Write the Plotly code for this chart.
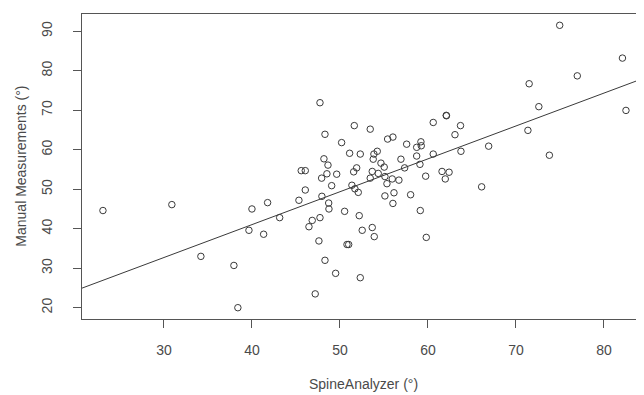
import numpy as np
import plotly.graph_objects as go

# SpineAnalyzer (x) vs Manual Measurements (y), degrees
spine_analyzer = [
    23.07, 30.9, 40.0, 39.66, 34.2, 37.95, 38.4,
    74.97, 82.1, 76.97, 71.5, 72.6, 82.5, 62.1, 63.7, 63.07, 71.36, 66.9, 63.75, 73.8,
    61.6, 62.4, 61.97, 66.1,
    47.73, 51.63, 53.44, 48.30, 55.42, 56.02, 60.60, 62.08, 50.19, 57.58,
    59.20, 59.24, 58.72, 51.10, 52.31, 54.24, 53.86, 60.60, 58.72, 48.18,
    53.78, 56.93, 48.64, 54.66, 55.03, 59.09, 51.90, 51.56, 48.52, 49.63,
    53.67, 54.35, 57.35, 45.60, 46.06, 47.92, 53.44, 55.11, 55.94, 56.70,
    55.34, 59.74,
    49.06, 51.36, 51.70, 52.08, 46.06, 56.14, 55.11, 58.03, 45.34, 47.95,
    48.72, 48.75, 56.02, 41.78,
    50.53, 59.13, 43.15, 47.73, 52.19, 46.85, 46.48,
    41.33, 52.53, 53.67, 53.90, 59.81, 47.61,
    50.80, 50.99, 48.30, 49.51, 52.31, 47.19,
]
manual = [
    44.6, 46.1, 45.0, 39.6, 33.0, 30.7, 20.0,
    91.5, 83.2, 78.7, 76.7, 70.9, 69.95, 68.6, 66.1, 63.8, 64.9, 60.9, 59.6, 58.6,
    54.5, 54.3, 52.6, 50.6,
    71.9, 66.1, 65.2, 63.9, 62.7, 63.2, 66.9, 68.7, 61.8, 61.4,
    62.0, 61.0, 60.6, 59.1, 58.9, 59.6, 58.9, 58.9, 58.4, 57.7,
    57.6, 57.6, 56.1, 56.6, 55.6, 56.3, 55.4, 54.4, 53.9, 53.8,
    54.5, 54.0, 55.4, 54.7, 54.7, 52.8, 52.8, 53.2, 52.6, 52.3,
    51.4, 53.3,
    50.9, 51.0, 50.1, 49.2, 49.8, 49.1, 48.3, 48.6, 47.2, 48.2,
    46.5, 45.0, 46.4, 46.6,
    44.4, 44.6, 42.8, 42.8, 43.3, 42.1, 40.5,
    38.6, 39.6, 40.3, 38.0, 37.8, 36.9,
    36.0, 36.0, 32.0, 28.7, 27.6, 23.5,
]

x_ticks = [30, 40, 50, 60, 70, 80]
y_ticks = [20, 30, 40, 50, 60, 70, 80, 90]
x_title = "SpineAnalyzer (°)"
y_title = "Manual Measurements (°)"

x = np.array(spine_analyzer)
y = np.array(manual)
slope, intercept = np.polyfit(x, y, 1)

x_range = [20.69, 84.55]
y_range = [17.14, 94.36]
line_x = np.array(x_range)
line_y = intercept + slope * line_x

ink = "#3a3a3a"
txt = "#4a4a4a"
font_family = "Liberation Sans, Arial, sans-serif"

fig = go.Figure()
fig.add_trace(go.Scatter(
    x=line_x, y=line_y, mode="lines",
    line=dict(color=ink, width=1), hoverinfo="skip", showlegend=False,
))
fig.add_trace(go.Scatter(
    x=x, y=y, mode="markers",
    marker=dict(symbol="circle-open", size=6.5, color=ink, line=dict(width=1, color=ink)),
    showlegend=False,
))

axis_common = dict(
    showgrid=False, zeroline=False, showline=True, linecolor="#555555", linewidth=1,
    ticks="outside", ticklen=8, tickwidth=1, tickcolor="#555555",
    tickfont=dict(family=font_family, size=14, color=txt),
    automargin=False,
)
fig.update_xaxes(range=x_range, tickvals=x_ticks, ticktext=[str(v) for v in x_ticks],
                 ticklabelstandoff=10, mirror=True, **axis_common)
fig.update_yaxes(range=y_range, tickvals=y_ticks, ticktext=[str(v) for v in y_ticks],
                 tickangle=-90, ticklabelstandoff=15, mirror=False, **axis_common)

fig.add_annotation(text=x_title, xref="paper", yref="paper", x=0.5, y=-0.213,
                   showarrow=False, yanchor="middle",
                   font=dict(family=font_family, size=14, color=txt))
fig.add_annotation(text=y_title, xref="paper", yref="paper", x=-0.110, y=0.5,
                   showarrow=False, textangle=-90, xanchor="center",
                   font=dict(family=font_family, size=14, color=txt))

# page body adds an 8px offset; figure sized so the plot box lands where the reference has it
fig.update_layout(
    width=636, height=387,
    margin=dict(l=74, r=0, t=6, b=76),
    plot_bgcolor="white", paper_bgcolor="white",
)
fig.write_html("out.html")
